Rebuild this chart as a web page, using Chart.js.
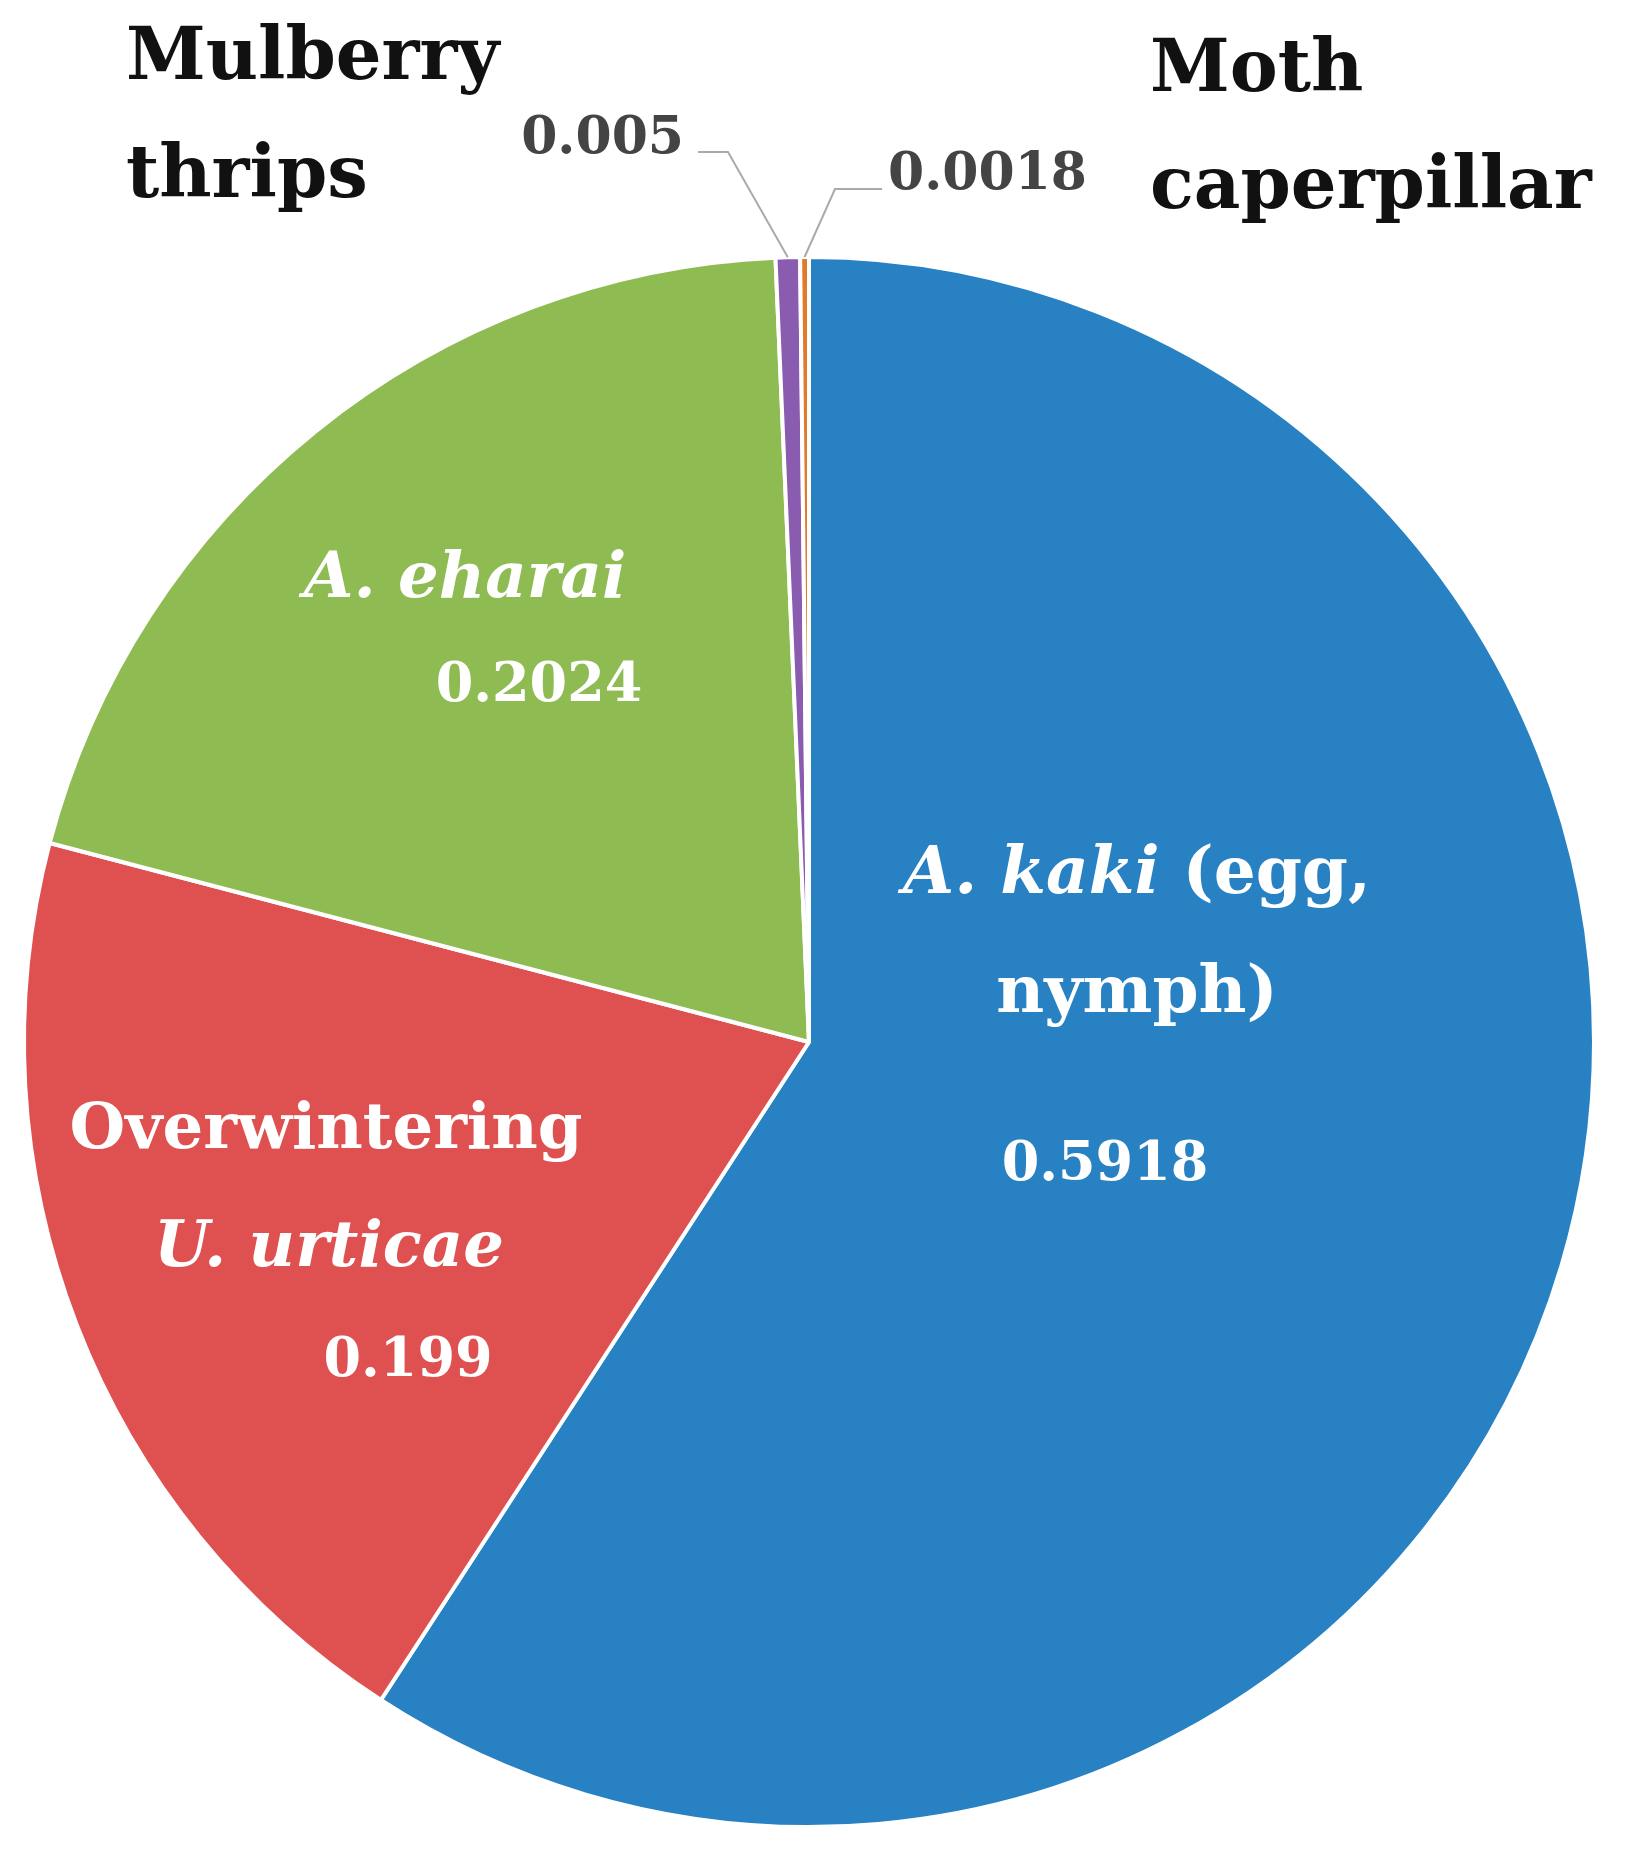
<!DOCTYPE html>
<html>
<head>
<meta charset="utf-8">
<script src="https://cdn.jsdelivr.net/npm/chart.js@4"></script>
<style>
  html, body { margin: 0; padding: 0; background: #fff; }
  #wrap { width: 1634px; height: 1858px; }
</style>
</head>
<body>
<div id="wrap"><canvas id="grafico"></canvas></div>
<script>
const categorias = ["A. kaki (egg, nymph)", "Overwintering U. urticae", "A. eharai", "Mulberry thrips", "Moth caperpillar"];
const valores = [0.5918, 0.199, 0.2024, 0.005, 0.0018];
const cores = ["#2881c2", "#de5150", "#8fbc52", "#8a5cb0", "#e07b2c"];
const rotulos = ["0.5918", "0.199", "0.2024", "0.005", "0.0018"];

const SERIF = '"DejaVu Serif", "Liberation Serif", serif';

// desenha uma linha com partes em itálico
function linha(ctx, partes, x, y, cor, tam, alinh) {
  let total = 0;
  partes.forEach(p => {
    ctx.font = (p[1] ? "italic " : "") + "bold " + tam + "px " + SERIF;
    total += ctx.measureText(p[0]).width;
  });
  let cx = alinh === "left" ? x : alinh === "right" ? x - total : x - total / 2;
  ctx.fillStyle = cor;
  ctx.textBaseline = "middle";
  ctx.textAlign = "left";
  partes.forEach(p => {
    ctx.font = (p[1] ? "italic " : "") + "bold " + tam + "px " + SERIF;
    ctx.fillText(p[0], cx, y);
    cx += ctx.measureText(p[0]).width;
  });
}

const rotulosPlugin = {
  id: "rotulos",
  afterDraw(chart) {
    const ctx = chart.ctx;
    const arcs = chart.getDatasetMeta(0).data;
    ctx.save();
    // rótulos internos
    linha(ctx, [["A. kaki", true], [" (egg,", false]], 1137, 876, "#fff", 66, "center");
    linha(ctx, [["nymph)", false]], 1137, 995, "#fff", 66, "center");
    linha(ctx, [[rotulos[0], false]], 1105, 1166, "#fff", 54, "center");
    linha(ctx, [["Overwintering", false]], 326, 1131, "#fff", 64, "center");
    linha(ctx, [["U. urticae", true]], 329, 1249, "#fff", 64, "center");
    linha(ctx, [[rotulos[1], false]], 408, 1362, "#fff", 54, "center");
    linha(ctx, [["A. eharai", true]], 465, 580, "#fff", 64, "center");
    linha(ctx, [[rotulos[2], false]], 539, 687, "#fff", 54, "center");
    // rótulos externos
    linha(ctx, [["Mulberry", false]], 126, 60, "#111", 72, "left");
    linha(ctx, [["thrips", false]], 126, 178, "#111", 72, "left");
    linha(ctx, [["Moth", false]], 1150, 72, "#111", 72, "left");
    linha(ctx, [["caperpillar", false]], 1150, 189, "#111", 72, "left");
    linha(ctx, [[rotulos[3], false]], 684, 139, "#444", 52, "right");
    linha(ctx, [[rotulos[4], false]], 888, 175, "#444", 52, "left");
    // linhas de chamada
    ctx.strokeStyle = "#aaa";
    ctx.lineWidth = 2;
    const p3 = arcs[3].tooltipPosition();
    const p4 = arcs[4].tooltipPosition();
    const topo = a => {
      const m = (a.startAngle + a.endAngle) / 2;
      return [a.x + Math.cos(m) * a.outerRadius, a.y + Math.sin(m) * a.outerRadius];
    };
    const t3 = topo(arcs[3]), t4 = topo(arcs[4]);
    ctx.beginPath();
    ctx.moveTo(698, 152); ctx.lineTo(728, 152); ctx.lineTo(t3[0], t3[1]);
    ctx.moveTo(882, 189); ctx.lineTo(835, 189); ctx.lineTo(t4[0], t4[1]);
    ctx.stroke();
    ctx.restore();
  }
};

new Chart(document.getElementById("grafico"), {
  type: "pie",
  data: {
    labels: categorias,
    datasets: [{
      data: valores,
      backgroundColor: cores,
      borderColor: "#fff",
      borderWidth: 4
    }]
  },
  options: {
    responsive: true,
    maintainAspectRatio: false,
    animation: false,
    layout: { padding: { left: 22, right: 38, top: 255, bottom: 29 } },
    plugins: { legend: { display: false }, tooltip: { enabled: false } }
  },
  plugins: [rotulosPlugin]
});
</script>
</body>
</html>
